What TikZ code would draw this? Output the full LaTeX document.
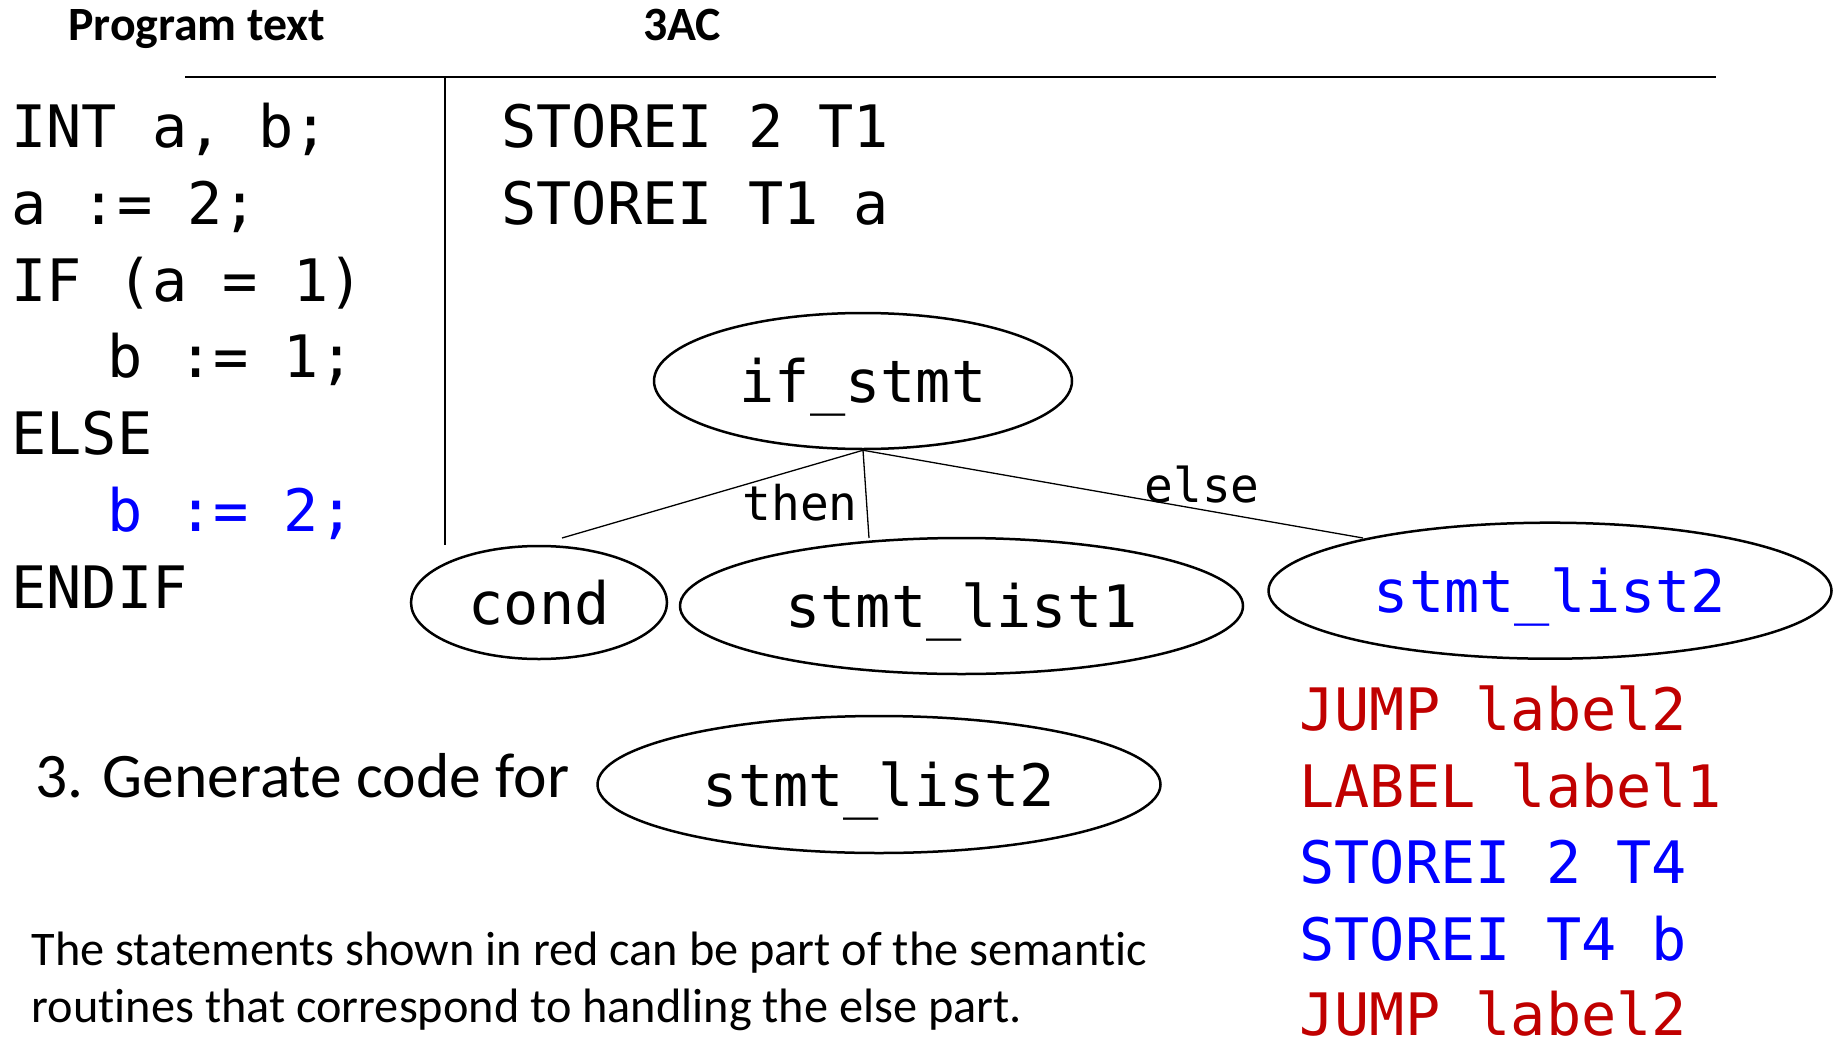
\documentclass[tikz,border=0pt]{standalone}
\usepackage{fontspec}
\setmainfont{Carlito}[Ligatures=NoCommon]
\setmonofont{DejaVu Sans Mono}
\usetikzlibrary{shapes.geometric}
\definecolor{cred}{RGB}{192,0,0}
\definecolor{cblue}{RGB}{0,0,255}
\begin{document}
\begin{tikzpicture}[x=1pt,y=-1pt,
  code/.style={anchor=base west, inner sep=0, font=\ttfamily\fontsize{58.5}{70}\selectfont},
  tnode/.style={ellipse, draw, line width=2.5pt, inner sep=0, font=\ttfamily\fontsize{58.5}{70}\selectfont, text height=43pt, text depth=0pt},
  edgelbl/.style={anchor=base, inner sep=0, font=\ttfamily\fontsize{47.8}{57}\selectfont},
  head/.style={inner sep=0, font=\bfseries\fontsize{47.8}{57}\selectfont},
  prose/.style={anchor=base west, inner sep=0, font=\fontsize{48.3}{58}\selectfont},
  rule/.style={line width=1.4pt},
  conn/.style={line width=1.3pt}]
\useasboundingbox (0,0) rectangle (1841,1038);

% headers
\node[head, anchor=base west] (h1) at (68,41) {Program text};
\node[head, anchor=base] (h2) at (682,41) {3AC};
\coordinate (hl1) at (185,77);
\coordinate (hl2) at (1716,77);
\coordinate (vl1) at (445,77);
\coordinate (vl2) at (445,545);
\draw[rule] (hl1) -- (hl2);
\draw[rule] (vl1) -- (vl2);

% program text
\node[code] (p1) at (11.3,147) {INT a, b;};
\node[code] (p2) at (11.3,224) {a := 2;};
\node[code] (p3) at (11.3,301) {IF (a = 1)};
\node[code] (p4) at (107.7,377.5) {b := 1;};
\node[code] (p5) at (11.3,454) {ELSE};
\node[code, text=cblue] (p6) at (107.7,531) {b := 2;};
\node[code] (p7) at (11.3,608) {ENDIF};

% 3AC
\node[code] (c1) at (501.3,147) {STOREI 2 T1};
\node[code] (c2) at (501.3,224) {STOREI T1 a};

% tree
\node[tnode, minimum width=418, minimum height=136] (ifs) at (863,381) {if\_stmt};
\node[tnode, minimum width=256, minimum height=113] (cond) at (539,602.5) {cond};
\node[tnode, minimum width=563, minimum height=136] (sl1) at (961.5,606) {stmt\_list1};
\node[tnode, minimum width=563, minimum height=136, text=cblue] (sl2) at (1550,590.7) {stmt\_list2};
\coordinate (e1) at (562,538);
\coordinate (e2) at (869,538);
\coordinate (e3) at (1363,538);
\draw[conn] (ifs.south) -- (e1);
\draw[conn] (ifs.south) -- (e2);
\draw[conn] (ifs.south) -- (e3);
\node[edgelbl] (lthen) at (800,520) {then};
\node[edgelbl] (lelse) at (1202,502) {else};

% generated code
\node[code, text=cred] (r1) at (1299.3,730) {JUMP label2};
\node[code, text=cred] (r2) at (1299.3,807) {LABEL label1};
\node[code, text=cblue] (r3) at (1299.3,883) {STOREI 2 T4};
\node[code, text=cblue] (r4) at (1299.3,960) {STOREI T4 b};
\node[code, text=cred] (r5) at (1299.3,1035) {JUMP label2};

% step 3
\node[anchor=base west, inner sep=0, font=\fontsize{63.5}{76}\selectfont] (gen) at (35,797) {3. Generate code for};
\node[tnode, minimum width=563, minimum height=137] (sl2b) at (879,784.5) {stmt\_list2};

% note
\node[prose] (n1) at (31.5,965) {The statements shown in red can be part of the semantic};
\node[prose] (n2) at (31.5,1022) {routines that correspond to handling the else part.};
\end{tikzpicture}
\end{document}
